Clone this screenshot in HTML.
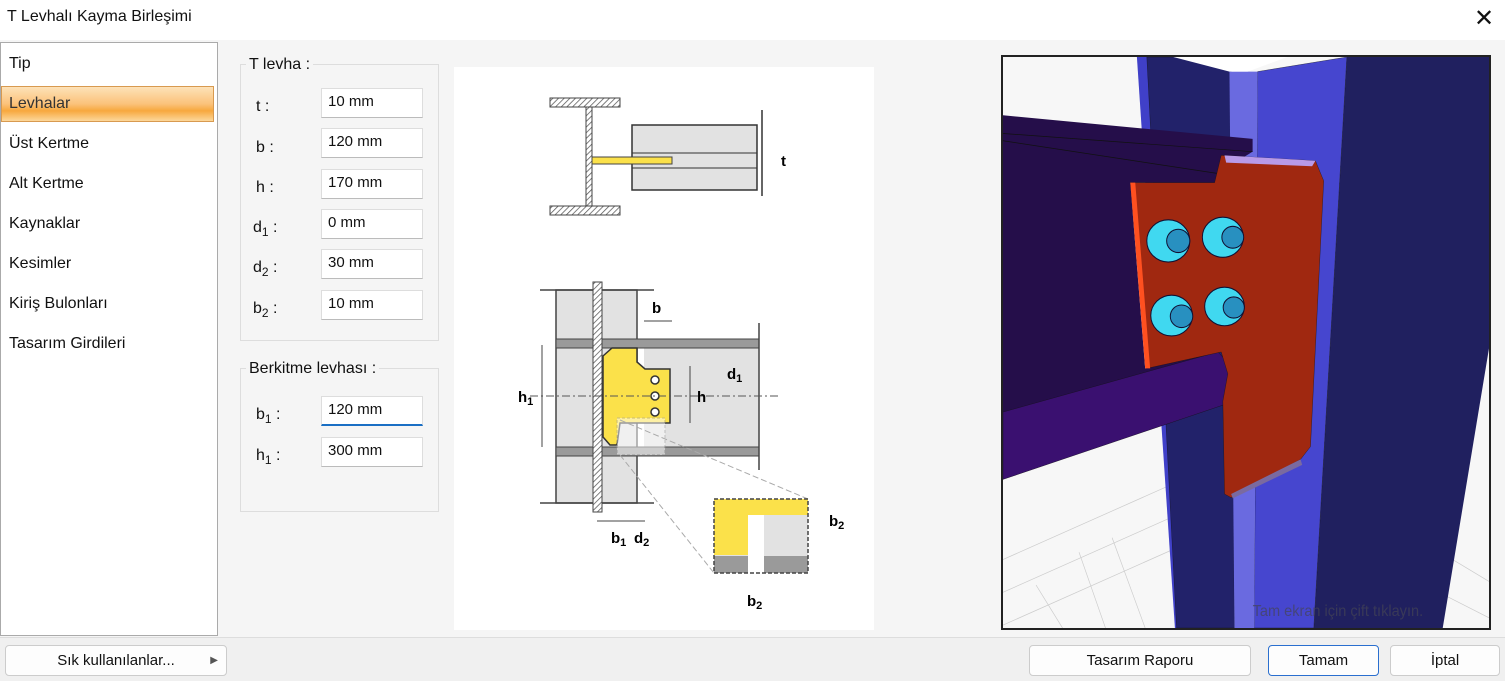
<!DOCTYPE html>
<html><head><meta charset="utf-8"><style>
body{margin:0;width:1505px;height:680px;background:#f5f5f5;font-family:"Liberation Sans",sans-serif;position:relative;overflow:hidden;font-size:15px;color:#111}
.a{position:absolute}
.inp{position:absolute;left:321px;width:102px;height:30px;background:#fff;border:1px solid #ddd;border-bottom:1px solid #bbb;box-sizing:border-box;padding:4px 6px;font-size:15px}
.lb{position:absolute;left:256px;font-size:16px}
.btn{position:absolute;top:645px;height:31px;background:#fdfdfd;border:1px solid #ccc;border-radius:4px;box-sizing:border-box;text-align:center;line-height:29px;font-size:15px}
.it{position:absolute;left:9px;font-size:16px}
.gb{position:absolute;left:240px;width:199px;border:1px solid #ddd;box-sizing:border-box}
</style></head><body>
<div class="a" style="left:0;top:0;width:1505px;height:40px;background:#fff"></div>
<div class="a" style="left:7px;top:8px;font-size:16px">T Levhalı Kayma Birleşimi</div>
<div class="a" style="left:1474px;top:4px;font-size:24px;font-weight:300">✕</div>
<div class="a" style="left:0;top:42px;width:218px;height:594px;background:#fff;border:1px solid #aaa;box-sizing:border-box"></div>
<div class="a" style="left:1px;top:86px;width:213px;height:36px;background:linear-gradient(#fde2b8,#fbc27a 50%,#f7a83e 70%,#fcd79a);border:1px solid #d89a50;box-sizing:border-box"></div>
<div class="it" style="top:55px">Tip</div>
<div class="it" style="top:95px;color:#333">Levhalar</div>
<div class="it" style="top:135px">Üst Kertme</div>
<div class="it" style="top:175px">Alt Kertme</div>
<div class="it" style="top:215px">Kaynaklar</div>
<div class="it" style="top:255px">Kesimler</div>
<div class="it" style="top:295px">Kiriş Bulonları</div>
<div class="it" style="top:335px">Tasarım Girdileri</div>

<div class="gb" style="top:64px;height:277px"></div>
<div class="a" style="left:246px;top:56px;background:#f5f5f5;padding:0 3px;font-size:16px">T levha :</div>
<div class="lb" style="top:98px">t :</div><div class="inp" style="top:88px">10 mm</div>
<div class="lb" style="top:139px">b :</div><div class="inp" style="top:128px">120 mm</div>
<div class="lb" style="top:179px">h :</div><div class="inp" style="top:169px">170 mm</div>
<div class="lb" style="top:219px;left:253px">d<sub style="font-size:12px">1</sub> :</div><div class="inp" style="top:209px">0 mm</div>
<div class="lb" style="top:259px;left:253px">d<sub style="font-size:12px">2</sub> :</div><div class="inp" style="top:249px">30 mm</div>
<div class="lb" style="top:300px;left:253px">b<sub style="font-size:12px">2</sub> :</div><div class="inp" style="top:290px">10 mm</div>

<div class="gb" style="top:368px;height:144px"></div>
<div class="a" style="left:246px;top:360px;background:#f5f5f5;padding:0 3px;font-size:16px">Berkitme levhası :</div>
<div class="lb" style="top:406px">b<sub style="font-size:12px">1</sub> :</div><div class="inp" style="top:396px;border-bottom:2px solid #1a6fc4">120 mm</div>
<div class="lb" style="top:447px">h<sub style="font-size:12px">1</sub> :</div><div class="inp" style="top:437px">300 mm</div>

<svg class="a" style="left:454px;top:67px" width="420" height="563" viewBox="454 67 420 563" font-family="Liberation Sans" font-weight="bold">
<defs><pattern id="h" width="4" height="4" patternUnits="userSpaceOnUse" patternTransform="rotate(45)"><rect width="4" height="4" fill="#fff"/><line x1="0" y1="0" x2="0" y2="4" stroke="#555" stroke-width="1.5"/></pattern></defs>
<rect x="454" y="67" width="420" height="563" fill="#fff"/>
<rect x="550" y="98" width="70" height="9" fill="url(#h)" stroke="#444"/>
<rect x="550" y="206" width="70" height="9" fill="url(#h)" stroke="#444"/>
<rect x="586" y="107" width="6" height="99" fill="url(#h)" stroke="#444"/>
<rect x="632" y="125" width="125" height="65" fill="#e2e2e2" stroke="#333" stroke-width="1.5"/>
<line x1="632" y1="153" x2="757" y2="153" stroke="#333"/><line x1="632" y1="168" x2="757" y2="168" stroke="#333"/>
<rect x="592" y="157" width="80" height="7" fill="#fbe14a" stroke="#444"/>
<line x1="762" y1="110" x2="762" y2="196" stroke="#333" stroke-width="1.5"/>
<text x="781" y="166" font-size="15">t</text>
<rect x="556" y="290" width="81" height="213" fill="#e2e2e2" stroke="#444" stroke-width="1.5"/>
<line x1="540" y1="290" x2="654" y2="290" stroke="#444" stroke-width="1.5"/><line x1="540" y1="503" x2="654" y2="503" stroke="#444" stroke-width="1.5"/>
<rect x="644" y="339" width="115" height="116" fill="#e2e2e2"/>
<rect x="556" y="339" width="203" height="9" fill="#9a9a9a" stroke="#444"/>
<rect x="556" y="447" width="203" height="9" fill="#9a9a9a" stroke="#444"/>
<line x1="759" y1="323" x2="759" y2="470" stroke="#444" stroke-width="1.5"/>
<path d="M603 356 L612 348 L637 348 L637 362 L645 369 L670 369 L670 423 L620 423 L617 445 L610 445 L603 437Z" fill="#fbe14a" stroke="#333" stroke-width="1.5"/>
<rect x="593" y="282" width="9" height="230" fill="url(#h)" stroke="#444"/>
<circle cx="655" cy="380" r="4" fill="#fff" stroke="#333" stroke-width="1.5"/><circle cx="655" cy="396" r="4" fill="#fff" stroke="#333" stroke-width="1.5"/><circle cx="655" cy="412" r="4" fill="#fff" stroke="#333" stroke-width="1.5"/>
<line x1="530" y1="396" x2="780" y2="396" stroke="#555" stroke-dasharray="8,3,2,3"/>
<line x1="542" y1="345" x2="542" y2="447" stroke="#444"/>
<line x1="690" y1="366" x2="690" y2="423" stroke="#444"/>
<line x1="644" y1="321" x2="672" y2="321" stroke="#444"/>
<text x="518" y="402" font-size="15">h<tspan font-size="11" dy="3">1</tspan></text>
<text x="697" y="402" font-size="15">h</text>
<text x="652" y="313" font-size="15">b</text>
<text x="727" y="379" font-size="15">d<tspan font-size="11" dy="3">1</tspan></text>
<rect x="617" y="418" width="48" height="37" fill="#fff" opacity="0.5" stroke="#999" stroke-dasharray="3,2"/>
<line x1="620" y1="420" x2="808" y2="499" stroke="#aaa" stroke-dasharray="6,3"/>
<line x1="620" y1="455" x2="714" y2="573" stroke="#aaa" stroke-dasharray="6,3"/>
<rect x="714" y="499" width="94" height="74" fill="#e2e2e2"/>
<path d="M714 499 H808 V515 H764 L757 522 V555 H714Z" fill="#fbe14a"/>
<rect x="714" y="556" width="94" height="17" fill="#9a9a9a"/>
<rect x="748" y="515" width="16" height="58" fill="#fff"/>
<rect x="714" y="499" width="94" height="74" fill="none" stroke="#444" stroke-dasharray="4,2" stroke-width="1.5"/>
<line x1="597" y1="521" x2="645" y2="521" stroke="#444"/>
<text x="611" y="543" font-size="15">b<tspan font-size="11" dy="3">1</tspan></text>
<text x="634" y="543" font-size="15">d<tspan font-size="11" dy="3">2</tspan></text>
<text x="829" y="526" font-size="15">b<tspan font-size="11" dy="3">2</tspan></text>
<text x="747" y="606" font-size="15">b<tspan font-size="11" dy="3">2</tspan></text>
</svg>

<svg class="a" style="left:1001px;top:55px;border:2px solid #222;box-sizing:border-box" width="490" height="575" viewBox="0 0 1470 1568" preserveAspectRatio="none">
<rect width="1470" height="1568" fill="#f7f7f7"/>
<g stroke="#ccc" stroke-width="2" fill="none"><path d="M0 1470 L520 1260 M0 1560 L520 1350 M0 1380 L520 1170 M100 1450 L180 1568 M230 1360 L310 1568 M330 1320 L430 1568 M1360 1380 L1470 1440 M1340 1480 L1470 1540"/></g>
<polygon points="1040,0 1470,0 1470,800 1330,1568 940,1568" fill="#20205f"/>
<polygon points="770,40 1040,0 940,1568 760,1568" fill="#4646cf" stroke="#111"/>
<polygon points="405,0 690,0 700,1568 520,1568" fill="#4040c8"/>
<polygon points="435,0 690,0 700,1568 525,1568" fill="#22226a" stroke="#111"/>
<polygon points="685,40 770,40 760,1568 700,1568" fill="#6a6ae0"/>
<polygon points="515,0 860,0 740,40 685,40" fill="#fff"/>
<polygon points="0,160 755,225 755,260 650,320 640,345 385,345 430,855 650,810 750,900 750,930 0,1160" fill="#250e4a"/>
<polygon points="0,975 650,810 750,905 750,930 0,1160" fill="#3a1070" stroke="#111"/>
<path d="M0 210 L755 260 M0 230 L650 320" stroke="#111" stroke-width="2"/>
<polygon points="385,345 640,345 660,270 945,285 970,340 930,1070 900,1105 690,1210 670,1200 665,945 680,870 660,810 435,855" fill="#a02810" stroke="#111"/>
<polygon points="385,345 400,345 445,855 430,855" fill="#ff5020"/>
<polygon points="670,270 945,285 935,300 675,290" fill="#b89ae8"/>
<polygon points="690,1200 900,1105 905,1120 695,1212" fill="#7a6aa0"/>
<g stroke="#113" stroke-width="3"><ellipse cx="500" cy="505" rx="65" ry="58" fill="#40d8f0"/><ellipse cx="665" cy="495" rx="62" ry="55" fill="#40d8f0"/><ellipse cx="510" cy="710" rx="63" ry="56" fill="#40d8f0"/><ellipse cx="670" cy="685" rx="60" ry="53" fill="#40d8f0"/>
<ellipse cx="530" cy="505" rx="35" ry="32" fill="#2890c0"/><ellipse cx="695" cy="495" rx="33" ry="30" fill="#2890c0"/><ellipse cx="540" cy="712" rx="34" ry="31" fill="#2890c0"/><ellipse cx="698" cy="688" rx="32" ry="29" fill="#2890c0"/></g>
<text x="755" y="1535" font-size="44" fill="#445" fill-opacity="0.7" font-family="Liberation Sans" transform="scale(1,1)">Tam ekran için çift tıklayın.</text>
</svg>

<div class="a" style="left:0;top:637px;width:1505px;height:43px;background:#f0f0f0;border-top:1px solid #ddd"></div>
<div class="btn" style="left:5px;width:222px">Sık kullanılanlar... <span style="position:absolute;right:8px;font-size:10px;color:#555">▶</span></div>
<div class="btn" style="left:1029px;width:222px">Tasarım Raporu</div>
<div class="btn" style="left:1268px;width:111px;border:1px solid #2a6fcf">Tamam</div>
<div class="btn" style="left:1390px;width:110px">İptal</div>
</body></html>
